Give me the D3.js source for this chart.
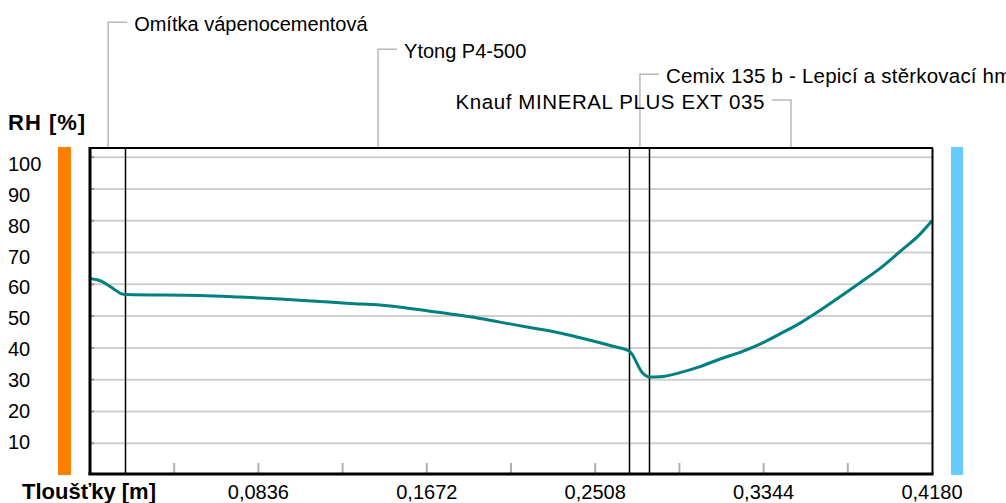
<!DOCTYPE html>
<html>
<head>
<meta charset="utf-8">
<script src="https://cdn.jsdelivr.net/npm/d3@7"></script>
<style>
html,body{margin:0;padding:0;background:#fff;}
svg{display:block;font-family:"Liberation Sans",Arial,sans-serif;}
</style>
</head>
<body>
<svg id="chart" width="1006" height="503"></svg>
<script>
// ---- data ----
const layerNames = ["Omítka vápenocementová", "Ytong P4-500", "Cemix 135 b - Lepicí a stěrkovací hmota", "Knauf MINERAL PLUS EXT 035"];
const layerThickness = [0.018, 0.25, 0.01, 0.14];
const thicknessPos = [0, 0.0058, 0.0116, 0.0157, 0.0181, 0.0546, 0.0745, 0.0943, 0.1142, 0.1291, 0.1440, 0.1589, 0.1738, 0.1887, 0.2035, 0.2184, 0.2333, 0.2433, 0.2532, 0.2596, 0.2677, 0.2745, 0.2775, 0.2830, 0.2929, 0.3028, 0.3128, 0.3227, 0.3326, 0.3425, 0.3525, 0.3624, 0.3723, 0.3823, 0.3922, 0.4021, 0.4121, 0.418];
const rhValues     = [61.8, 60.9, 58.6, 57.0, 56.8, 56.5, 56.0, 55.4, 54.6, 54.0, 53.5, 52.4, 51.1, 49.8, 48.1, 46.4, 44.7, 43.2, 41.6, 40.5, 39.0, 32.0, 30.8, 30.9, 32.2, 34.1, 36.5, 38.6, 41.2, 44.4, 47.8, 51.8, 56.1, 60.5, 65.0, 70.3, 75.8, 80.0];
const yTicks = [10, 20, 30, 40, 50, 60, 70, 80, 90, 100];
const xTickLabels = ["0,0836", "0,1672", "0,2508", "0,3344", "0,4180"];
const xTickValues = [0.0836, 0.1672, 0.2508, 0.3344, 0.4180];
const xMinorTicks = [0.0418, 0.0836, 0.1254, 0.1672, 0.209, 0.2508, 0.2926, 0.3344, 0.3762];
const yTitle = "RH [%]";
const xTitle = "Tloušťky [m]";

// ---- layout ----
const svg = d3.select("#chart");
const L = 90, R = 932, T = 148, B = 474;
const x = d3.scaleLinear().domain([0, 0.418]).range([L, R]);
const y = d3.scaleLinear().domain([0, 100]).range([475, 157.2]);
const yLab = d3.scaleLinear().domain([10, 100]).range([441.7, 164]);

// side bars
svg.append("rect").attr("x", 58).attr("y", 147).attr("width", 13).attr("height", 328).attr("fill", "#ff8000");
svg.append("rect").attr("x", 951).attr("y", 147).attr("width", 12).attr("height", 328).attr("fill", "#66ccff");

// gridlines
svg.append("g").selectAll("line").data(yTicks).join("line")
  .attr("x1", L + 1).attr("x2", R).attr("y1", d => y(d)).attr("y2", d => y(d))
  .attr("stroke", "#cfcfcf").attr("stroke-width", 2);
svg.append("g").selectAll("line").data(yTicks).join("line")
  .attr("x1", L + 1).attr("x2", L + 4).attr("y1", d => y(d)).attr("y2", d => y(d))
  .attr("stroke", "#999").attr("stroke-width", 2);

// minor x ticks
svg.append("g").selectAll("line").data(xMinorTicks).join("line")
  .attr("x1", d => x(d)).attr("x2", d => x(d)).attr("y1", 463).attr("y2", B)
  .attr("stroke", "#b0b0b0").attr("stroke-width", 2);

// layer boundaries
const bounds = d3.cumsum(layerThickness);
const inner = Array.from(bounds).slice(0, -1);
svg.append("g").selectAll("line").data(inner).join("line")
  .attr("x1", d => Math.round(x(d)) - 0.5).attr("x2", d => Math.round(x(d)) - 0.5).attr("y1", T).attr("y2", B)
  .attr("stroke", "#000").attr("stroke-width", 1.5);

// line
const pts = thicknessPos.map((t, i) => [t, rhValues[i]]);
svg.append("path").datum(pts)
  .attr("fill", "none").attr("stroke", "#008080").attr("stroke-width", 3).attr("stroke-linejoin", "round")
  .attr("d", d3.line().curve(d3.curveMonotoneX).x(d => x(d[0])).y(d => y(d[1])));

// frame
svg.append("line").attr("x1", L).attr("x2", R + 1).attr("y1", T).attr("y2", T).attr("stroke", "#000").attr("stroke-width", 2);
svg.append("line").attr("x1", R + 0.5).attr("x2", R + 0.5).attr("y1", T).attr("y2", B).attr("stroke", "#000").attr("stroke-width", 2);
svg.append("line").attr("x1", L).attr("x2", L).attr("y1", T - 1).attr("y2", B + 1).attr("stroke", "#000").attr("stroke-width", 3);
svg.append("line").attr("x1", L - 1.5).attr("x2", R + 1.5).attr("y1", B).attr("y2", B).attr("stroke", "#000").attr("stroke-width", 3);

// y tick labels
svg.append("g").selectAll("text").data(yTicks).join("text")
  .attr("x", 8).attr("y", d => yLab(d)).attr("dominant-baseline", "central")
  .attr("font-size", 20).attr("fill", "#000").text(d => d);

// x tick labels
svg.append("g").selectAll("text").data(xTickValues).join("text")
  .attr("x", d => x(d)).attr("y", 492).attr("dominant-baseline", "central").attr("text-anchor", "middle")
  .attr("font-size", 20).attr("fill", "#000").text((d, i) => xTickLabels[i]);

// titles
svg.append("text").attr("x", 8).attr("y", 122).attr("dominant-baseline", "central")
  .attr("font-size", 22).attr("font-weight", "bold").attr("letter-spacing", 1).text(yTitle);
svg.append("text").attr("x", 22).attr("y", 491).attr("dominant-baseline", "central")
  .attr("font-size", 22).attr("font-weight", "bold").text(xTitle);

// layer labels with leaders
const starts = [0].concat(inner);
const labelRows = [22.3, 49.3, 74.3, 100];
const labelSide = [1, 1, 1, -1];
const labelSize = [20, 20, 20.5, 20.5];
const labelSpacing = [0, 0, 0.2, 0.6];
const g = svg.append("g");
layerNames.forEach((name, i) => {
  const xc = x(starts[i] + layerThickness[i] / 2);
  const ly = labelRows[i];
  const s = labelSide[i];
  g.append("polyline")
    .attr("points", `${xc},${T - 1} ${xc},${ly} ${xc + s * 19},${ly}`)
    .attr("fill", "none").attr("stroke", "#b8b8b8").attr("stroke-width", 1.5);
  g.append("text").attr("x", xc + s * 26).attr("y", ly + 1.5)
    .attr("dominant-baseline", "central").attr("text-anchor", s > 0 ? "start" : "end")
    .attr("font-size", labelSize[i]).attr("letter-spacing", labelSpacing[i])
    .attr("fill", "#000").text(name);
});
</script>
</body>
</html>
